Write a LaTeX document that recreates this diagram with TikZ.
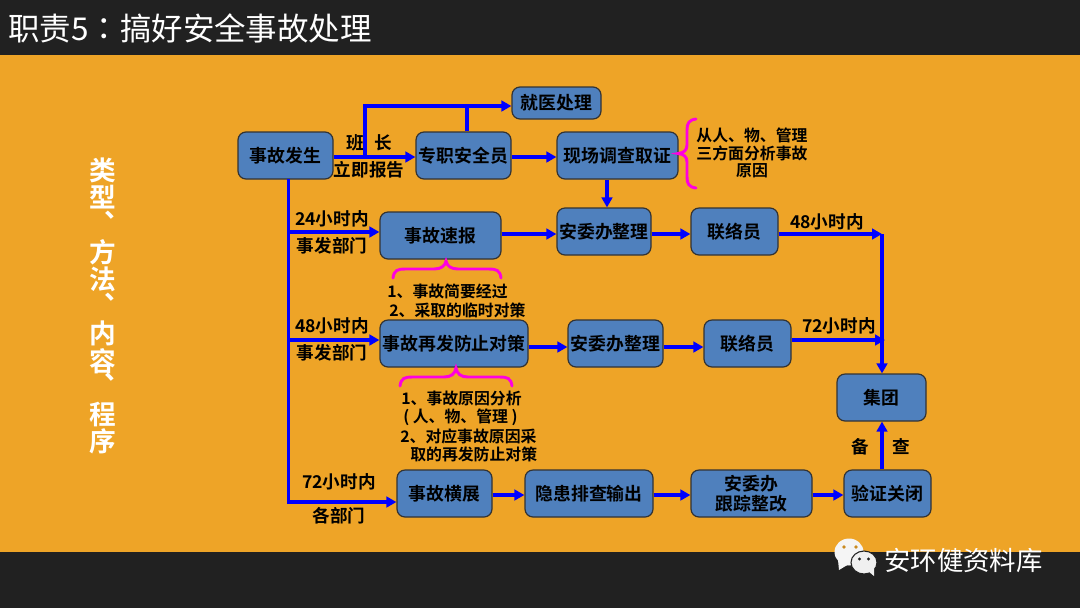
\documentclass[tikz,border=0pt]{standalone}
\usepackage{fontspec}
\setmainfont{Noto Sans CJK SC}[BoldFont={Noto Sans CJK SC Bold}]
\newfontfamily\tcfont{Noto Sans CJK TC}
\usetikzlibrary{arrows.meta,calc}
\definecolor{orangebg}{HTML}{EEA427}
\definecolor{darkbg}{HTML}{212121}
\definecolor{boxblue}{HTML}{4F80BD}
\definecolor{boxedge}{HTML}{333333}
\definecolor{bracecol}{HTML}{FF00E0}
\newcommand{\fsz}[1]{\fontsize{#1}{#1}\selectfont}
\tikzset{
  x=0.75pt,y=-0.75pt,
  flow/.style={draw=boxedge,line width=0.9pt,fill=boxblue,rounded corners=6pt,inner sep=0pt,
    align=center,font=\fsz{13.4}\bfseries,text=black},
  lbl/.style={inner sep=0pt,font=\fsz{13.2}\bfseries,text=black,align=center},
  note/.style={inner sep=0pt,font=\fsz{11.9}\bfseries,text=black,align=center},
  vchar/.style={inner sep=0pt,font=\fsz{20}\bfseries,text=white},
  link/.style={draw=blue,line width=2.6pt},
  arrow/.style={link,-{Triangle[length=7.5pt,width=8pt]}},
  curly/.style={draw=bracecol,line width=2.2pt,line cap=round},
}
\newcommand{\flowbox}[6]{% name, x1, y1, x2, y2, text
  \node[flow,minimum width=#4*0.75pt-#2*0.75pt,minimum height=#5*0.75pt-#3*0.75pt]
    (#1) at ({(#2+#4)/2},{(#3+#5)/2}) {#6};}
\begin{document}
\begin{tikzpicture}
\useasboundingbox (0,0) rectangle (1080,608);
\fill[darkbg] (0,0) rectangle (1080,608);
\fill[orangebg] (0,55) rectangle (1080,552);
\node[anchor=west,inner sep=0pt,text=white,font=\fsz{23.6}] (title) at (8,28) {职责5{\tcfont ：}搞好安全事故处理};

% vertical label
\node[vchar] (v1) at (103,170) {类};
\node[vchar] (v2) at (103,197) {型};
\node[vchar] (v3) at (118,215) {、};
\node[vchar] (v4) at (103,252) {方};
\node[vchar] (v5) at (103,279) {法};
\node[vchar] (v6) at (118,297) {、};
\node[vchar] (v7) at (103,333) {内};
\node[vchar] (v8) at (103,361) {容};
\node[vchar] (v9) at (118,377) {、};
\node[vchar] (v10) at (103,414) {程};
\node[vchar] (v11) at (103,441) {序};

% boxes
\flowbox{occ}{238}{132}{333}{179}{事故发生}
\flowbox{safety}{416}{132}{511}{179}{专职安全员}
\flowbox{survey}{557}{132}{678}{179}{现场调查取证}
\flowbox{medical}{512}{87}{601}{119}{就医处理}
\flowbox{report}{380}{212}{501}{259}{事故速报}
\flowbox{officeA}{557}{208}{651}{255}{安委办整理}
\flowbox{liaisonA}{691}{208}{778}{255}{联络员}
\flowbox{prevent}{380}{320}{528}{367}{事故再发防止对策}
\flowbox{officeB}{568}{320}{663}{367}{安委办整理}
\flowbox{liaisonB}{704}{320}{791}{367}{联络员}
\flowbox{group}{837}{374}{926}{421}{集团}
\flowbox{spread}{397}{470}{492}{517}{事故横展}
\flowbox{hazard}{525}{470}{653}{517}{隐患排查输出}
\flowbox{track}{691}{470}{812}{517}{安委办\\[2pt]跟踪整改}
\flowbox{verify}{844}{470}{931}{517}{验证关闭}

% junction coordinates
\coordinate (jBranch) at (365,157);
\coordinate (jBranchTop) at (365,106);
\coordinate (jTrunk) at (288.5,179);
\coordinate (jTrunk24) at (288.5,232);
\coordinate (jTrunk48) at (288.5,340);
\coordinate (jTrunk72) at (288.5,502);
\coordinate (jGroupTop) at (882,234);
\coordinate (jGroup72) at (885,340);
\coordinate (jSafetyTop) at (467,106);
\coordinate (jDown) at (607,0);

% connectors
\draw[arrow] (occ.east |- jBranch) -- (safety.west |- jBranch);
\draw[arrow] (jBranch) -- (jBranchTop) -- (medical.west |- jBranchTop);
\draw[link] (safety.north -| jSafetyTop) -- (jSafetyTop);
\draw[arrow] (safety.east |- jBranch) -- (survey.west |- jBranch);
\draw[arrow] (survey.south -| jDown) -- (officeA.north -| jDown);
\draw[arrow] (jTrunk) -- (jTrunk72) -- (spread.west |- jTrunk72);
\draw[arrow] (jTrunk24) -- (report.west |- jTrunk24);
\draw[arrow] (jTrunk48) -- (prevent.west |- jTrunk48);
\draw[arrow] (report.east |- jGroupTop) -- (officeA.west |- jGroupTop);
\draw[arrow] (officeA.east |- jGroupTop) -- (liaisonA.west |- jGroupTop);
\draw[arrow] (liaisonA.east |- jGroupTop) -- (jGroupTop);
\draw[arrow] (jGroupTop) -- (group.north -| jGroupTop);
\draw[arrow] (prevent.east |- 0,347) -- (officeB.west |- 0,347);
\draw[arrow] (officeB.east |- 0,347) -- (liaisonB.west |- 0,347);
\draw[arrow] (liaisonB.east |- jGroup72) -- (jGroup72);
\draw[arrow] (spread.east |- 0,495) -- (hazard.west |- 0,495);
\draw[arrow] (hazard.east |- 0,495) -- (track.west |- 0,495);
\draw[arrow] (track.east |- 0,495) -- (verify.west |- 0,495);
\draw[arrow] (verify.north -| jGroupTop) -- (group.south -| jGroupTop);

% connector labels
\node[lbl] (lBan) at (355,143) {班};
\node[lbl] (lZhang) at (383,143) {长};
\node[lbl] (lNow) at (369,170) {立即报告};
\node[lbl] (l24) at (332,219) {24小时内};
\node[lbl] (d24) at (332,246) {事发部门};
\node[lbl] (l48) at (332,326) {48小时内};
\node[lbl] (d48) at (332,353) {事发部门};
\node[lbl] (l72) at (339,482) {72小时内};
\node[lbl] (d72) at (339,516) {各部门};
\node[lbl] (r48) at (827,222) {48小时内};
\node[lbl] (r72) at (839,326) {72小时内};
\node[lbl] (lBei) at (860,447) {备};
\node[lbl] (lCha) at (901,447) {查};

% notes
\node[note] (nSurvey) at (752,153) {从人、物、管理\\[1pt]三方面分析事故\\[1pt]原因};
\node[note,anchor=west] (nRepA) at (387,291) {1、事故简要经过};
\node[note,anchor=west] (nRepB) at (389,310) {2、采取的临时对策};
\node[note,anchor=west] (nPreA) at (401,398) {1、事故原因分析};
\node[note,anchor=west] (nPreB) at (403,417) {( 人、物、管理 )};
\node[note,anchor=west] (nPreC) at (400,436) {2、对应事故原因采};
\node[note,anchor=west] (nPreD) at (410,454) {取的再发防止对策};

% braces
\draw[curly] (393,278) .. controls (394,270) and (398,269) .. (405,269) -- (434,269)
  .. controls (441,269) and (445,266) .. (446,261)
  .. controls (447,266) and (451,269) .. (458,269) -- (489,269)
  .. controls (496,269) and (500,270) .. (501,278);
\draw[curly] (400,386) .. controls (401,378) and (405,377) .. (412,377) -- (444,377)
  .. controls (451,377) and (455,374) .. (456,368)
  .. controls (457,374) and (461,377) .. (468,377) -- (500,377)
  .. controls (507,377) and (511,378) .. (512,386);
\draw[curly] (696,119) .. controls (689,120) and (687,123) .. (687,130) -- (687,145)
  .. controls (687,150) and (684,153) .. (678,153.5)
  .. controls (684,154) and (687,157) .. (687,162) -- (687,177)
  .. controls (687,184) and (689,187) .. (696,188);

% watermark
\fill[white!92!gray] (849,552) ellipse (14.5 and 13.5);
\fill[white!92!gray] (838,560) -- (839,570) -- (849,564) -- cycle;
\fill[orangebg!85!black] (844,547) circle (1.8);
\fill[orangebg!85!black] (856,547) circle (1.8);
\draw[darkbg,fill=white!88!gray,line width=0.8pt] (864,562.5) ellipse (13 and 11.5);
\fill[white!88!gray] (868,571) -- (874,576) -- (874,567) -- cycle;
\fill[darkbg] (859.5,559) circle (1.7);
\fill[darkbg] (868.5,559) circle (1.7);
\node[anchor=west,inner sep=0pt,text=white,font=\fsz{19.8}] (mark) at (884,560) {安环健资料库};
\end{tikzpicture}
\end{document}
